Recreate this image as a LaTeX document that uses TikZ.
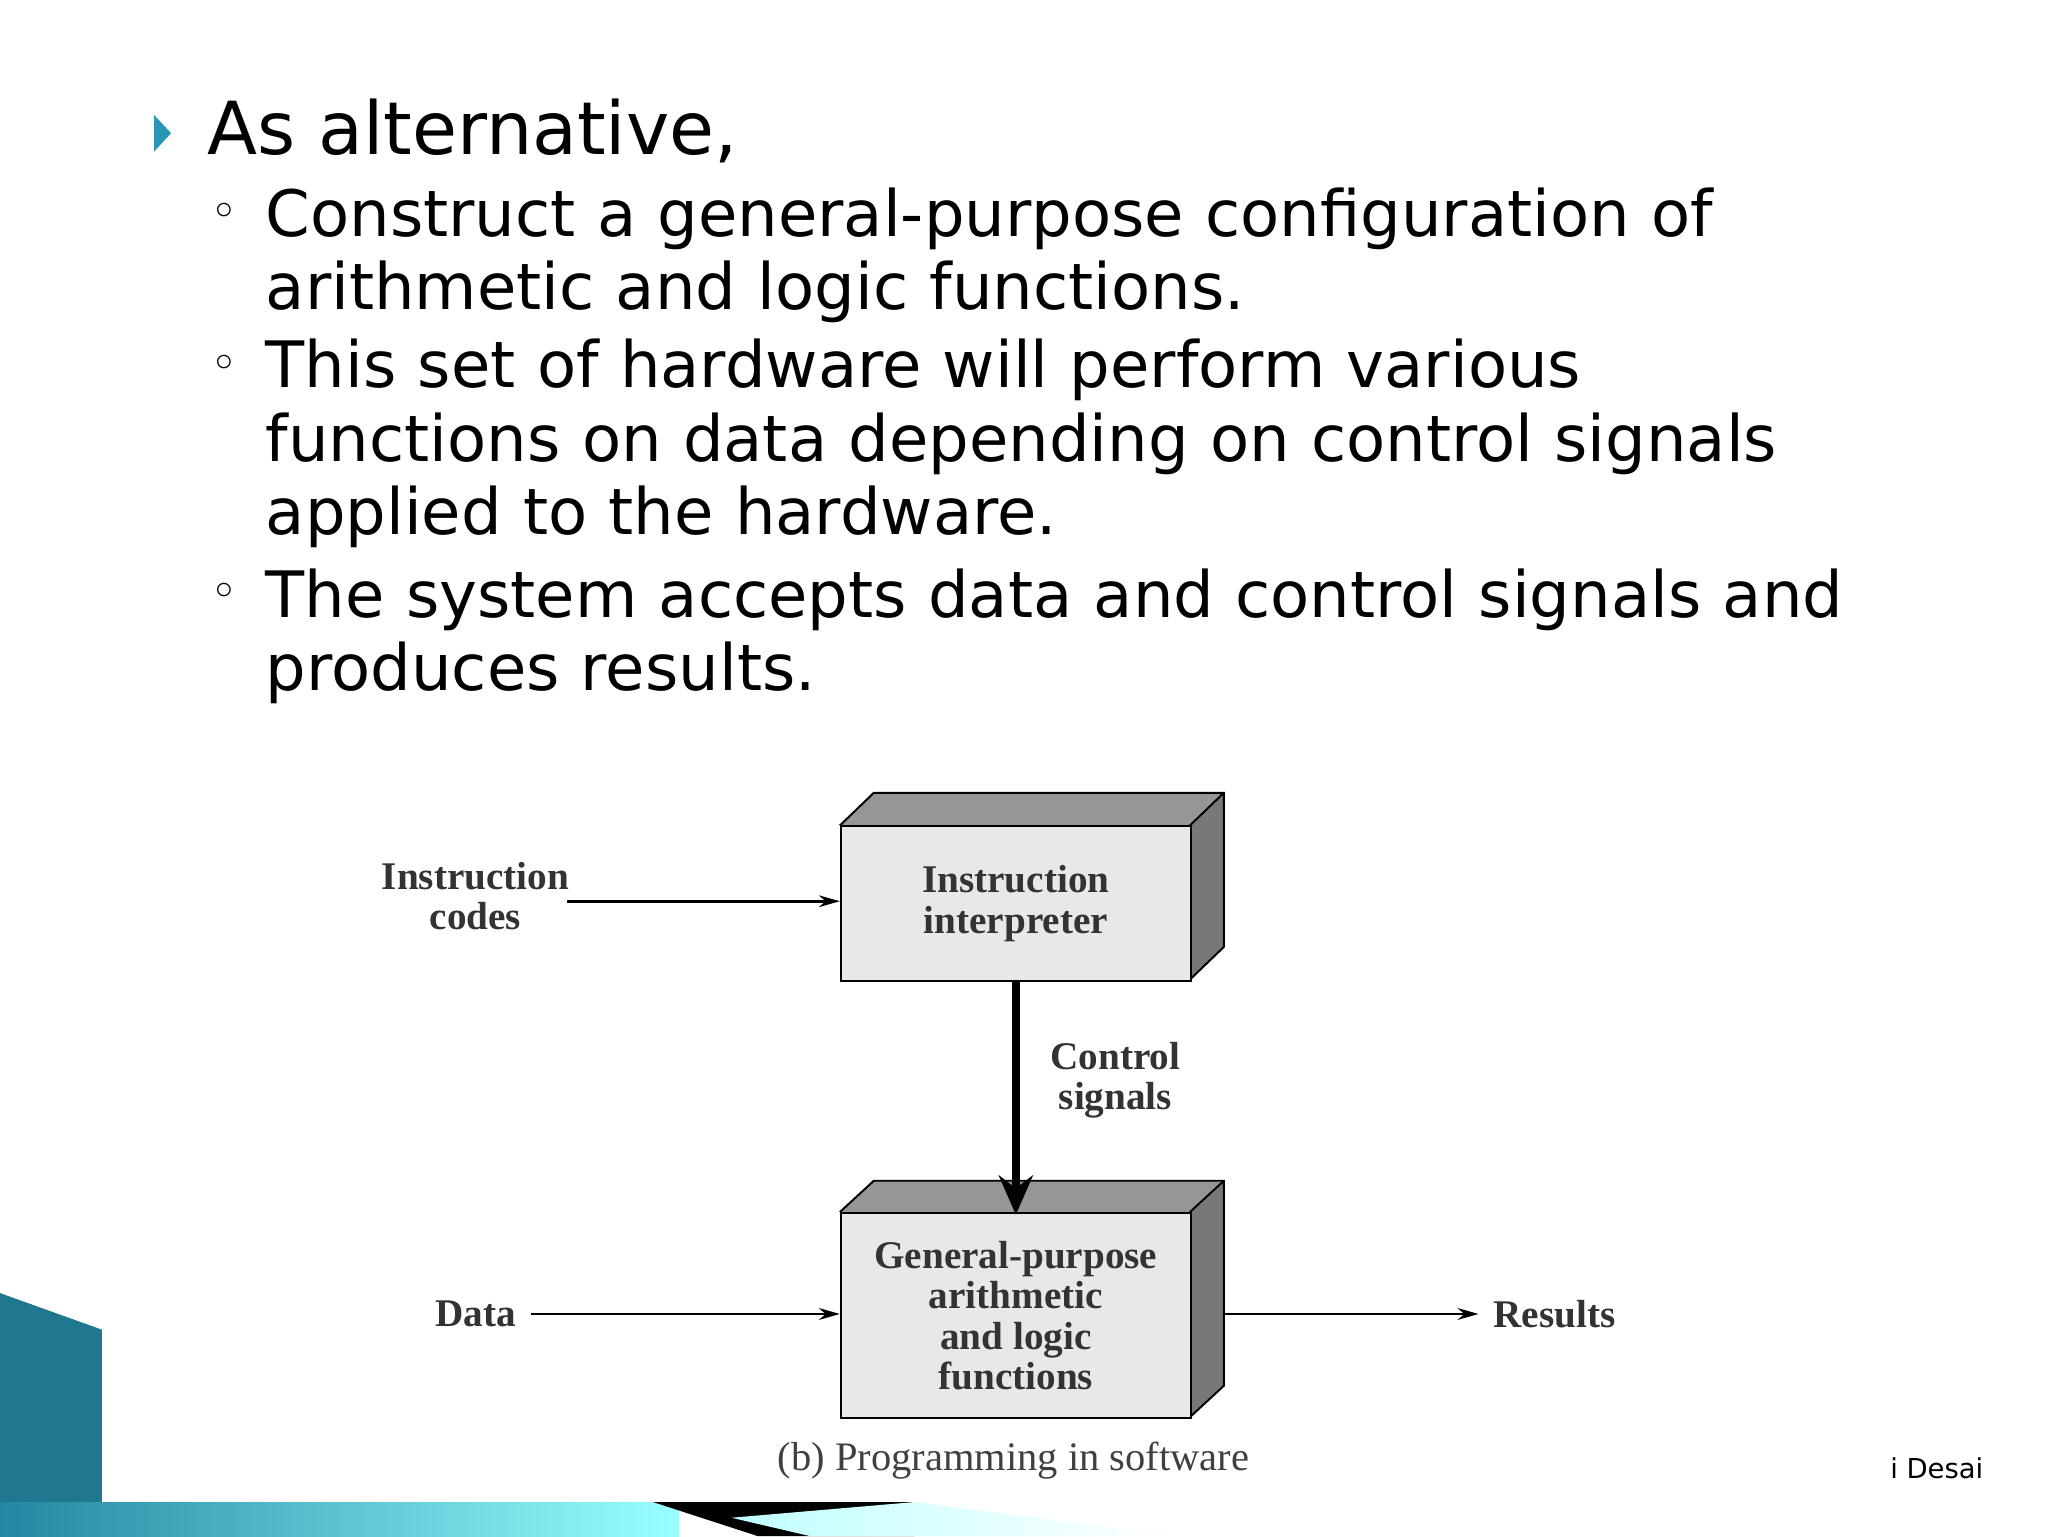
\documentclass[tikz,border=0pt]{standalone}
\usepackage{fontspec}
\setmainfont{DejaVu Sans}
\newfontfamily\serifb{Liberation Serif}
\usetikzlibrary{arrows.meta}
\definecolor{teal1}{RGB}{40,150,180}
\definecolor{boxfill}{RGB}{232,232,232}
\definecolor{topf}{RGB}{150,150,150}
\definecolor{sidef}{RGB}{120,120,120}
\tikzset{
 big/.style={anchor=base west,font=\fontsize{56}{56}\selectfont},
 sub/.style={anchor=base west,font=\fontsize{49}{56}\selectfont,align=left},
 lbl/.style={font=\serifb\bfseries\fontsize{30}{31}\selectfont,text=black!80,align=center},
}
\begin{document}
\begin{tikzpicture}[x=1pt,y=-1pt]
\useasboundingbox (0,0) rectangle (1568,1176);
\fill[white] (0,0) rectangle (1568,1176);
% bullets
\fill[teal1] (118,88) -- (131,102) -- (118,116) -- cycle;
\node[big] (t0) at (155,118) {As alternative,};
\foreach \y in {165,281,456} \node[font=\fontsize{36}{36}\selectfont] at (172,\y) {◦};
\node[sub,text width=1350pt] (t1) at (200,181) {Construct a general-purpose configuration of\\arithmetic and logic functions.};
\node[sub,text width=1350pt] (t2) at (200,297) {This set of hardware will perform various\\functions on data depending on control signals\\applied to the hardware.};
\node[sub,text width=1350pt] (t3) at (200,473) {The system accepts data and control signals and\\produces results.};
% box 1
\fill[topf] (643,632) -- (669,607) -- (937,607) -- (911,632) -- cycle;
\fill[sidef] (911,632) -- (937,607) -- (937,725) -- (911,750) -- cycle;
\draw[line width=1.5pt] (643,632) -- (669,607) -- (937,607) -- (937,725) -- (911,750) (911,632) -- (937,607);
\node[draw,line width=1.5pt,fill=boxfill,minimum width=268pt,minimum height=118pt,anchor=north west,lbl] (b1) at (643,632) {Instruction\\interpreter};
% box 2
\fill[topf] (643,928) -- (669,904) -- (937,904) -- (911,928) -- cycle;
\fill[sidef] (911,928) -- (937,904) -- (937,1061) -- (911,1085) -- cycle;
\draw[line width=1.5pt] (643,928) -- (669,904) -- (937,904) -- (937,1061) -- (911,1085) (911,928) -- (937,904);
\node[draw,line width=1.5pt,fill=boxfill,minimum width=268pt,minimum height=157pt,anchor=north west,lbl] (b2) at (643,928) {General-purpose\\arithmetic\\and logic\\functions};
% labels
\node[lbl] (ic) at (364,686) {Instruction\\codes};
\node[lbl] (cs) at (854,827) {Control\\signals};
\node[lbl] (da) at (364,1006) {Data};
\node[lbl,anchor=west] (re) at (1140,1006) {Results};
\node[font=\serifb\fontsize{31}{31}\selectfont,text=black!75] (cap) at (776,1118) {(b) Programming in software};
% arrows
\draw[line width=2pt,-{Stealth[length=16pt,width=9pt]}] ([xshift=-5pt]ic.east |- 0,690) -- (b1.west |- 0,690);
\draw[line width=6pt,-{Stealth[length=30pt,width=26pt]}] (b1.south) -- ([yshift=-2pt]b2.north);
\draw[line width=2pt,-{Stealth[length=16pt,width=9pt]}] ([xshift=8pt]da.east) -- (b2.west |- da.east);
\draw[line width=2pt,-{Stealth[length=16pt,width=9pt]}] (937,1006) -- ([xshift=-8pt]re.west);
% footer
\node[anchor=base east,font=\fontsize{21}{24}\selectfont] (ft) at (1522,1132) {i Desai};
\fill[teal1!80!black] (0,990) -- (78,1018) -- (78,1150) -- (0,1176) -- cycle;
\shade[left color=teal1!90!black,right color=cyan!40] (0,1150) rectangle (520,1176);
\fill[black] (500,1150) -- (700,1150) -- (700,1176) -- (580,1176) -- cycle;
\shade[left color=cyan!25,right color=white] (560,1162) -- (700,1150) -- (900,1176) -- (620,1176) -- cycle;
\end{tikzpicture}
\end{document}
